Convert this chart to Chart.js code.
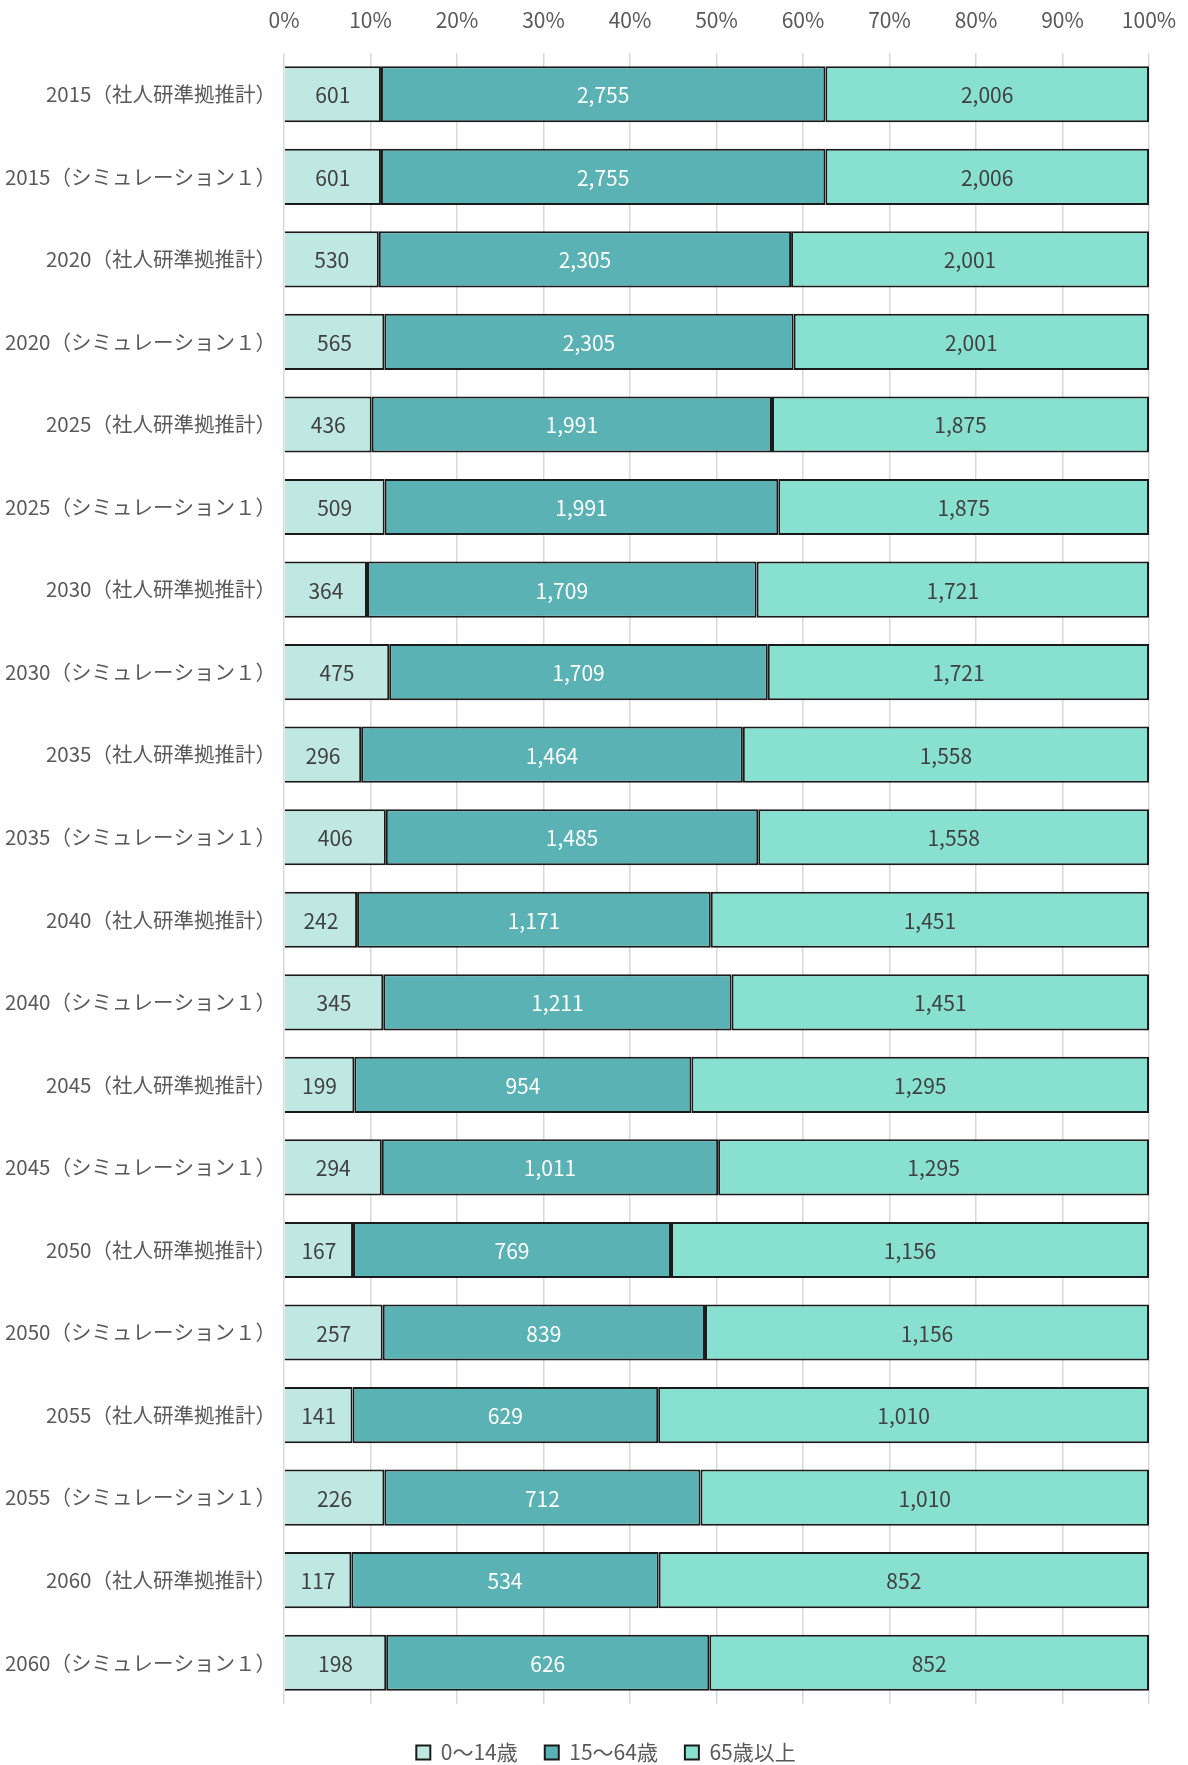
<!DOCTYPE html>
<html lang="ja">
<head>
<meta charset="utf-8">
<title>年齢3区分別人口の推移</title>
<script src="https://cdn.jsdelivr.net/npm/chart.js@4.4.1/dist/chart.umd.min.js"></script>
<style>
  html, body { margin: 0; padding: 0; background: #fff; }
  .chart-container { position: relative; width: 1188px; height: 1765px; }
</style>
</head>
<body>
<div class="chart-container">
  <canvas id="chart"></canvas>
</div>
<script>
const categories = [
  "2015（社人研準拠推計）", "2015（シミュレーション１）",
  "2020（社人研準拠推計）", "2020（シミュレーション１）",
  "2025（社人研準拠推計）", "2025（シミュレーション１）",
  "2030（社人研準拠推計）", "2030（シミュレーション１）",
  "2035（社人研準拠推計）", "2035（シミュレーション１）",
  "2040（社人研準拠推計）", "2040（シミュレーション１）",
  "2045（社人研準拠推計）", "2045（シミュレーション１）",
  "2050（社人研準拠推計）", "2050（シミュレーション１）",
  "2055（社人研準拠推計）", "2055（シミュレーション１）",
  "2060（社人研準拠推計）", "2060（シミュレーション１）"
];
const seriesNames = ["0〜14歳", "15〜64歳", "65歳以上"];
const young = [601, 601, 530, 565, 436, 509, 364, 475, 296, 406, 242, 345, 199, 294, 167, 257, 141, 226, 117, 198];
const working = [2755, 2755, 2305, 2305, 1991, 1991, 1709, 1709, 1464, 1485, 1171, 1211, 954, 1011, 769, 839, 629, 712, 534, 626];
const elderly = [2006, 2006, 2001, 2001, 1875, 1875, 1721, 1721, 1558, 1558, 1451, 1451, 1295, 1295, 1156, 1156, 1010, 1010, 852, 852];
const xTicks = [0, 10, 20, 30, 40, 50, 60, 70, 80, 90, 100];

const colors = ["#C0E8E2", "#5BB2B5", "#88E0D0"];
const labelColors = ["#404040", "#FFFFFF", "#404040"];
const FONT = '"Noto Sans CJK JP", "Noto Sans", sans-serif';

// 100%積み上げ用に割合へ変換（ラベルは実数を表示）
const raw = [young, working, elderly];
const totals = young.map((v, i) => v + working[i] + elderly[i]);
const pct = raw.map(arr => arr.map((v, i) => v / totals[i] * 100));

const valueLabels = {
  id: "valueLabels",
  afterDatasetsDraw(chart) {
    const ctx = chart.ctx;
    ctx.save();
    ctx.font = "21px " + FONT;
    ctx.textAlign = "center";
    ctx.textBaseline = "middle";
    chart.data.datasets.forEach((ds, di) => {
      const meta = chart.getDatasetMeta(di);
      ctx.fillStyle = labelColors[di];
      meta.data.forEach((bar, i) => {
        const x = (bar.x + bar.base) / 2;
        ctx.fillText(raw[di][i].toLocaleString("en-US"), x, bar.y + 1);
      });
    });
    ctx.restore();
  }
};

// 凡例を少し右へ寄せる
const shiftLegend = {
  id: "shiftLegend",
  afterLayout(chart) {
    if (chart.legend) chart.legend.left += 63;
  }
};

const chart = new Chart(document.getElementById("chart"), {
  type: "bar",
  data: {
    labels: categories,
    datasets: seriesNames.map((name, i) => ({
      label: name,
      data: pct[i],
      backgroundColor: colors[i],
      borderColor: "#1A1A1A",
      borderWidth: 2,
      borderSkipped: i === 0 ? "left" : false,
      barPercentage: 0.68,
      categoryPercentage: 1.0
    }))
  },
  options: {
    indexAxis: "y",
    responsive: true,
    maintainAspectRatio: false,
    animation: false,
    layout: { padding: { left: 0, right: 39, top: 0, bottom: -8 } },
    scales: {
      x: {
        position: "top",
        stacked: true,
        min: 0,
        max: 100,
        afterBuildTicks: (scale) => { scale.ticks = xTicks.map(v => ({ value: v })); },
        afterFit: (scale) => {
          scale.height = 53;
          scale.paddingLeft = 0;
          scale.paddingRight = 0;
        },
        ticks: {
          callback: (v) => v + "%",
          color: "#595959",
          font: { family: FONT, size: 21 },
          padding: 20,
          maxRotation: 0
        },
        grid: { color: "#D9D9D9", lineWidth: 1.5, drawTicks: false },
        border: { display: false }
      },
      y: {
        stacked: true,
        afterFit: (scale) => { scale.width = 284; },
        ticks: {
          color: "#595959",
          font: { family: FONT, size: 20.5 },
          padding: 8
        },
        grid: { display: false, drawTicks: false },
        border: { display: false }
      }
    },
    plugins: {
      legend: {
        position: "bottom",
        title: { display: true, text: "", font: { size: 1, lineHeight: 1 }, padding: { top: 10, bottom: 0 } },
        labels: {
          color: "#595959",
          font: { family: FONT, size: 21 },
          boxWidth: 14,
          boxHeight: 14,
          padding: 27
        }
      },
      tooltip: { enabled: false }
    }
  },
  plugins: [valueLabels, shiftLegend]
});
</script>
</body>
</html>
